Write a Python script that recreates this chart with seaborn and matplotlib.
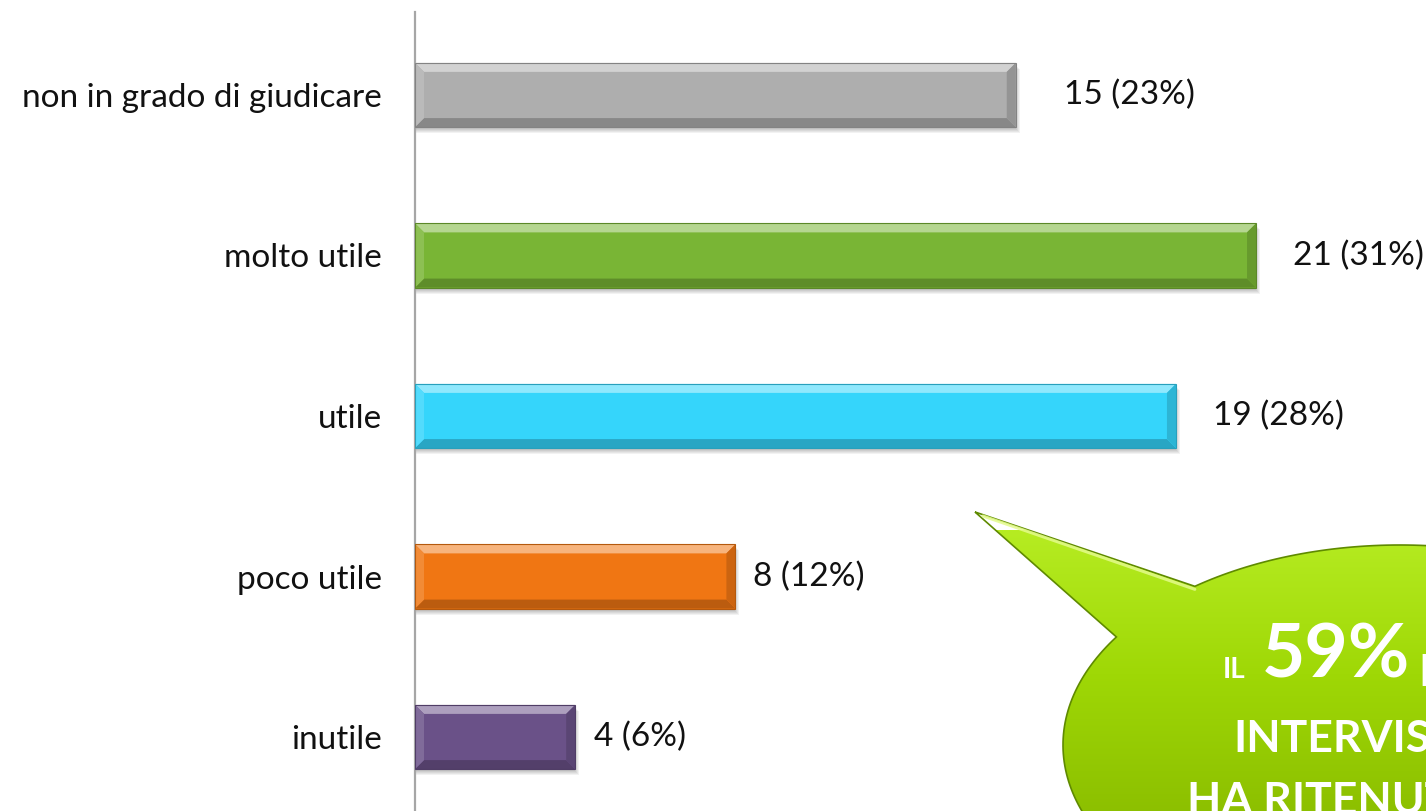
import numpy as np
import pandas as pd
import matplotlib
matplotlib.use("Agg")
import matplotlib.pyplot as plt
import seaborn as sns
from matplotlib.patches import Polygon, Rectangle
from matplotlib.colors import LinearSegmentedColormap, to_rgb

# --- data -------------------------------------------------------------
categories = ["non in grado di giudicare", "molto utile", "utile", "poco utile", "inutile"]
counts = [15, 21, 19, 8, 4]
percents = [23, 31, 28, 12, 6]
bar_colors = ["#aeaeae", "#79b535", "#35d5fb", "#f07613", "#6a5188"]
callout_small = "IL"
callout_big = "59%"
callout_rest = "DEGLI"
callout_line2 = "INTERVISTATI"
callout_line3 = "HA RITENUTO"

# gap (in pixels) between each bar end and its value label
label_gap_px = [48, 37, 37, 18, 19]

# --- figure -----------------------------------------------------------
sns.set_theme(style="white")
plt.rcParams["font.family"] = ["Lato", "DejaVu Sans"]

W, H = 1426, 811
fig = plt.figure(figsize=(W / 100, H / 100), dpi=100)
left_px, top_px = 415, 12
ax = fig.add_axes([left_px / W, 0, 1 - left_px / W, 1 - top_px / H])

df = pd.DataFrame({"categoria": categories, "n": counts})
sns.barplot(data=df, y="categoria", x="n", hue="categoria", order=categories,
            hue_order=categories, palette=bar_colors, saturation=1, width=0.4,
            linewidth=0, legend=False, ax=ax, zorder=2)

px_per_unit = 40.05
xmax = (W - left_px) / px_per_unit
ylim = (4.461, -0.517)
ax.set_xlim(0, xmax)
ax.set_ylim(*ylim)
ax.set_xlabel("")
ax.set_ylabel("")
ax.set_xticks([])
for s in ["top", "right", "bottom"]:
    ax.spines[s].set_visible(False)
ax.spines["left"].set_color("#a6a6a6")
ax.spines["left"].set_linewidth(1.6)
ax.tick_params(axis="y", length=0, pad=24, labelsize=24, labelcolor="#111111")

# pixel -> data conversion for decorations
ax_h_px = H - top_px
dx = 1.0 / px_per_unit
dy = (ylim[0] - ylim[1]) / ax_h_px


def mix(c, other, t):
    c, o = np.array(to_rgb(c)), np.array(to_rgb(other))
    return tuple(c * (1 - t) + o * t)


# bevel + shadow on each bar
bev = 9
for patch, col, n, pc, gap in zip(ax.patches, bar_colors, counts, percents, label_gap_px):
    x0, y0 = patch.get_x(), patch.get_y()
    w, h = patch.get_width(), patch.get_height()
    x1, y1 = x0 + w, y0 + h
    # soft drop shadow
    for k in range(1, 6):
        ax.add_patch(Rectangle((x0 - dx, y0 + (k + 1) * dy), w + k * dx, h,
                               facecolor="black", alpha=0.05, lw=0, zorder=1))
    bx, by = bev * dx, bev * dy
    top = Polygon([(x0, y0), (x1, y0), (x1 - bx, y0 + by), (x0 + bx, y0 + by)],
                  closed=True, facecolor=mix(col, "white", 0.45), lw=0, zorder=3)
    bottom = Polygon([(x0, y1), (x1, y1), (x1 - bx, y1 - by), (x0 + bx, y1 - by)],
                     closed=True, facecolor=mix(col, "black", 0.22), lw=0, zorder=3)
    lft = Polygon([(x0, y0), (x0 + bx, y0 + by), (x0 + bx, y1 - by), (x0, y1)],
                  closed=True, facecolor=mix(col, "white", 0.15), lw=0, zorder=3)
    rgt = Polygon([(x1, y0), (x1 - bx, y0 + by), (x1 - bx, y1 - by), (x1, y1)],
                  closed=True, facecolor=mix(col, "black", 0.15), lw=0, zorder=3)
    for p in (top, bottom, lft, rgt):
        ax.add_patch(p)
    ax.add_patch(Rectangle((x0, y0), w, h, facecolor="none",
                           edgecolor=mix(col, "black", 0.25), lw=0.8, zorder=4))
    ax.text(x1 + gap * dx, y0 + h / 2, f"{n} ({pc}%)", va="center", ha="left",
            fontsize=24, color="#111111", zorder=5)

# --- speech-bubble callout -------------------------------------------
ov = fig.add_axes([0, 0, 1, 1], zorder=6)
ov.patch.set_alpha(0)
ov.axis("off")

cx, cy, a, b = 1400, 745, 337, 200
tip = (975, 512)
t_up, t_low = np.deg2rad(-127.5), np.deg2rad(212.7)
tt = np.linspace(t_up, t_low, 300)
pts = [tip] + [(cx + a * np.cos(t), cy + b * np.sin(t)) for t in tt] + [tip]
bubble = Polygon(pts, closed=True, facecolor="none", edgecolor="#5f8a00", lw=1.2, zorder=3)
ov.add_patch(bubble)

grad = np.linspace(0, 1, 256).reshape(-1, 1)
cmap = LinearSegmentedColormap.from_list("bubble", ["#b6ec22", "#9fd806", "#8cbf00", "#76a000"])
img = ov.imshow(grad, cmap=cmap, extent=(950, 1760, 960, 530), origin="upper",
                aspect="auto", zorder=2)
img.set_clip_path(bubble)

base_up = (cx + a * np.cos(t_up), cy + b * np.sin(t_up))
ov.plot([tip[0] + 8, base_up[0]], [tip[1] + 4, base_up[1] + 3], color="#e4fb8c",
        lw=2.2, alpha=0.85, solid_capstyle="round", zorder=4)

ov.set_xlim(0, W)
ov.set_ylim(H, 0)

txt = dict(color="white", fontweight="bold", va="baseline", ha="left", zorder=5)
ov.text(1223, 678, callout_small, fontsize=20, **txt)
ov.text(1262, 678, callout_big, fontsize=54, **txt)
ov.text(1418, 686, callout_rest, fontsize=32, **txt)
ov.text(1233, 752, callout_line2, fontsize=32, **txt)
ov.text(1187, 814, callout_line3, fontsize=32, **txt)

fig.savefig("out.png", dpi=100)
